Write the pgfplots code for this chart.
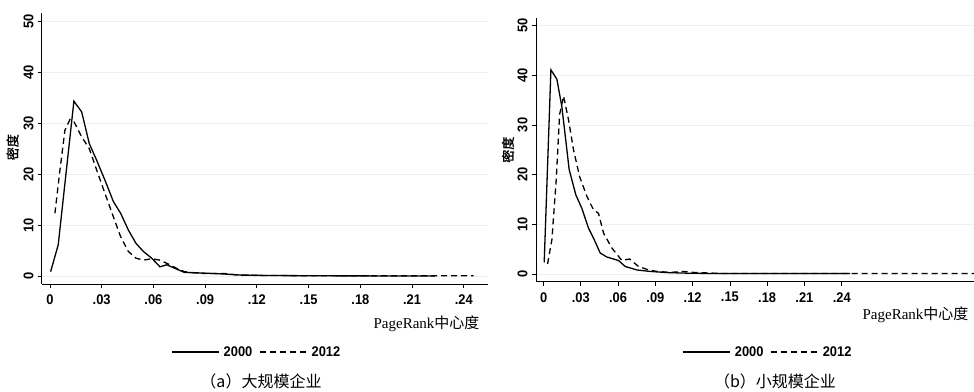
\documentclass[border=0pt]{standalone}
\usepackage{fontspec}
\usepackage{pgfplots}
\pgfplotsset{compat=1.18}
\setmainfont{Liberation Sans}
\newfontfamily\tickf[FakeStretch=0.92]{Liberation Sans}
\newfontfamily\serif{Liberation Serif}
\newfontfamily\cjk{Noto Sans CJK SC}
\newfontfamily\cjkb[FakeBold=1.5]{Noto Sans CJK SC}

\pgfplotsset{
  mystyle/.style={
    scale only axis,
    anchor=south west,
    axis x line*=bottom,
    axis y line*=left,
    axis line style={line width=1pt, -},
    tick align=outside,
    major tick length=4pt,
    tick style={black, line width=0.8pt},
    ytick={0,10,20,30,40,50},
    xtick={0,0.03,0.06,0.09,0.12,0.15,0.18,0.21,0.24},
    xticklabels={0,.03,.06,.09,.12,.15,.18,.21,.24},
    yticklabel style={rotate=90, anchor=south, font=\fontsize{14}{16}\tickf\bfseries, yshift=1pt},
    xticklabel style={font=\fontsize{14}{16}\tickf\bfseries, yshift=-3pt},
    /pgf/number format/assume math mode=true,
    ymajorgrids,
    major grid style={gray!12, line width=0.6pt},
    ymin=-1.57, ymax=51.6,
    ylabel={\cjkb 密度},
    ylabel style={anchor=center, rotate=0, font=\fontsize{13}{15}\selectfont},
    xlabel={{\serif PageRank}{\cjk 中心度}},
    legend style={draw=none, fill=none, legend columns=2, font=\fontsize{14}{16}\tickf\bfseries,
      nodes={inner sep=0pt, inner xsep=4.5pt},
      /tikz/every even column/.append style={column sep=2pt}, inner sep=0pt, anchor=center},
    legend image code/.code={\draw[#1] (0pt,0pt) -- (47pt,0pt);},
  },
  solidline/.style={black, solid, no marks, line width=1.3pt},
  dashline/.style={black, no marks, line width=1.3pt, dash pattern=on 6pt off 4pt},
}

\begin{document}
\begin{tikzpicture}
\path[use as bounding box] (0,0) rectangle (974pt,391pt);

\begin{axis}[mystyle,
  at={(42pt,107pt)}, width=446pt, height=271pt,
  xmin=-0.0046, xmax=0.254,
  ylabel style={at={(axis description cs:-0.066,0.505)}},
  xlabel style={at={(axis description cs:1,0)}, anchor=north east, xshift=-5pt, yshift=-28pt, font=\fontsize{15}{17}\selectfont},
  legend style={at={(axis description cs:0.484,-0.2509)}},
]
\addplot[solidline] coordinates {(0.0004,0.85) (0.0048,6.1) (0.0139,34.3) (0.0184,32.2) (0.0228,26.0) (0.0271,22.7) (0.0319,18.8) (0.0368,14.6) (0.041,12.3) (0.0455,9.0) (0.0499,6.4) (0.0542,4.8) (0.059,3.5) (0.0638,1.8) (0.0677,2.2) (0.0725,1.5) (0.078,0.7) (0.087,0.6) (0.1006,0.4) (0.11,0.2) (0.126,0.1) (0.164,0.03) (0.2234,0)};
\addlegendentry{2000}
\addplot[dashline] coordinates {(0.0029,12.3) (0.0058,20.8) (0.0087,28.6) (0.0116,30.7) (0.0139,30.3) (0.0184,27.3) (0.0228,25.0) (0.0271,20.8) (0.0319,16.2) (0.0368,11.6) (0.041,7.7) (0.0455,4.8) (0.0499,3.5) (0.0542,3.1) (0.059,3.4) (0.0638,3.1) (0.0677,2.5) (0.0735,1.5) (0.078,0.85) (0.087,0.5) (0.1006,0.5) (0.11,0.15) (0.145,0.05) (0.2456,0.05)};
\addlegendentry{2012}
\end{axis}

\begin{axis}[mystyle,
  at={(536pt,109.3pt)}, width=438pt, height=264pt,
  xmin=-0.0061, xmax=0.3465,
  ylabel style={at={(axis description cs:-0.064,0.5)}},
  xlabel style={at={(axis description cs:1,0)}, anchor=north east, xshift=-2pt, yshift=-22pt, font=\fontsize{15}{17}\selectfont},
  legend style={at={(axis description cs:0.532,-0.2663)}},
]
\addplot[solidline] coordinates {(0.0005,2.3) (0.0059,41.1) (0.0107,39.2) (0.0147,33.7) (0.0206,21.0) (0.026,15.9) (0.0308,13.2) (0.0362,9.2) (0.0402,7.2) (0.0456,4.2) (0.051,3.4) (0.0603,2.7) (0.0657,1.5) (0.075,0.8) (0.0858,0.5) (0.0992,0.27) (0.118,0.13) (0.145,0.07) (0.2467,0.07)};
\addlegendentry{2000}
\addplot[dashline] coordinates {(0.0032,2.0) (0.0067,6.9) (0.0102,19.0) (0.0129,32.1) (0.0161,35.8) (0.0201,31.0) (0.0241,25.0) (0.029,19.6) (0.0349,15.6) (0.0402,12.9) (0.0442,12.2) (0.0483,8.2) (0.055,5.2) (0.063,2.7) (0.0692,3.0) (0.0764,1.5) (0.0845,0.8) (0.0912,0.5) (0.1019,0.3) (0.1126,0.5) (0.1207,0.3) (0.145,0.07) (0.2467,0.07) (0.3465,0.07)};
\addlegendentry{2012}
\end{axis}

\node[font=\fontsize{16}{18}\selectfont\cjk] at (261pt,10pt) {（a）大规模企业};
\node[font=\fontsize{16}{18}\selectfont\cjk] at (775pt,10pt) {（b）小规模企业};
\end{tikzpicture}
\end{document}
